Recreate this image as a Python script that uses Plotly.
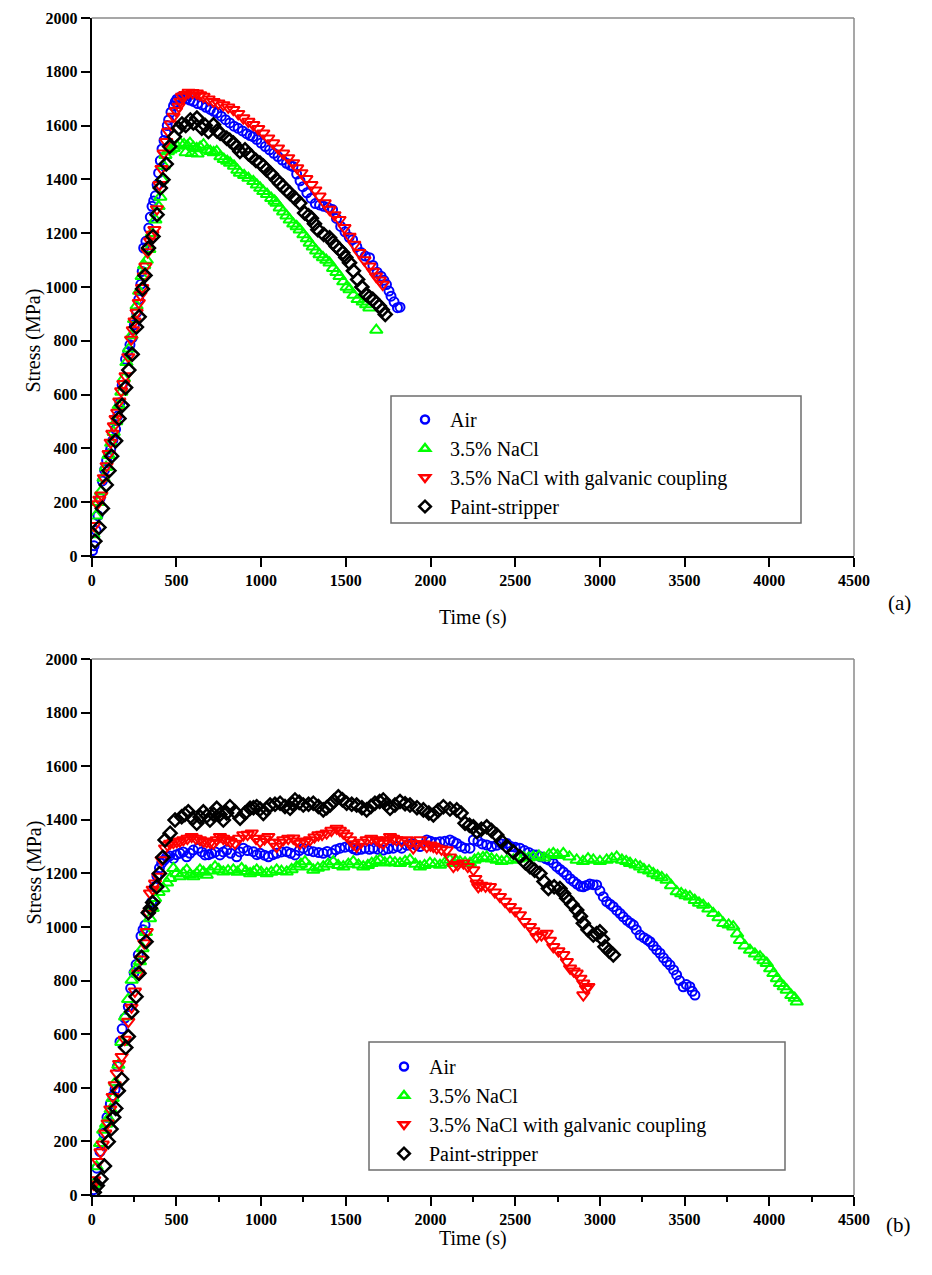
import plotly.graph_objects as go

# ---------------- Panel (a) data: Time (s), Stress (MPa) ----------------
a_air_t = [5, 14, 26, 37, 50, 63, 76, 88, 100, 112, 125, 141, 153, 166, 180, 200, 213, 226, 239, 252, 265, 278, 290, 298, 307, 320, 337, 346, 356, 366, 376, 386, 395, 405, 415, 427, 438, 446, 454, 468, 483, 493, 503,
           520, 540, 560, 580, 600, 625, 651, 675, 700, 720, 740, 765, 790, 815, 840, 865, 890, 915, 935, 952, 975, 1000, 1025, 1050, 1075, 1100, 1125, 1150, 1170, 1188, 1210, 1230, 1247, 1270, 1295, 1320, 1345, 1370, 1395, 1422, 1445, 1470, 1495, 1520, 1540, 1565, 1590, 1615, 1640, 1660, 1685, 1708, 1725, 1740, 1755, 1767, 1785, 1805, 1820]
a_air_s = [20, 38, 95, 150, 215, 279, 320, 355, 380, 397, 430, 471, 520, 570, 635, 731, 760, 785, 811, 860, 905, 954, 1010, 1058, 1145, 1170, 1219, 1260, 1300, 1320, 1339, 1380, 1424, 1470, 1513, 1545, 1574, 1600, 1621, 1650, 1673, 1688, 1698,
           1705, 1702, 1700, 1695, 1690, 1682, 1677, 1668, 1660, 1653, 1647, 1635, 1622, 1610, 1598, 1590, 1580, 1570, 1563, 1559, 1548, 1535, 1522, 1510, 1497, 1485, 1472, 1460, 1453, 1448, 1420, 1395, 1373, 1350, 1330, 1310, 1305, 1300, 1295, 1288, 1255, 1225, 1205, 1185, 1176, 1150, 1128, 1115, 1109, 1080, 1055, 1040, 1025, 1009, 985, 966, 945, 923, 925]

a_nacl_t = [10, 25, 40, 55, 70, 85, 100, 115, 130, 145, 160, 175, 190, 205, 220, 235, 250, 265, 280, 295, 310, 325, 340, 355, 376, 395, 405, 415, 425, 435, 450, 465, 484, 503, 523, 545, 565, 580, 600, 620, 640, 660, 680, 700, 720, 738, 760, 780, 800, 817, 840, 860, 875, 900, 925, 954, 975, 995, 1013, 1035, 1060, 1080, 1091, 1110, 1130, 1150, 1169, 1190, 1210, 1228, 1250, 1270, 1287, 1305, 1325, 1345, 1365, 1385, 1404, 1425, 1445, 1463, 1485, 1505, 1522, 1545, 1570, 1600, 1620, 1639, 1680,
            555, 590, 625]
a_nacl_s = [80, 150, 200, 240, 290, 330, 375, 420, 460, 500, 560, 610, 660, 720, 770, 820, 880, 930, 985, 1040, 1080, 1100, 1140, 1200, 1250, 1300, 1335, 1400, 1450, 1490, 1504, 1510, 1516, 1525, 1535, 1530, 1525, 1535, 1520, 1515, 1520, 1529, 1510, 1505, 1500, 1504, 1485, 1475, 1468, 1461, 1450, 1435, 1424, 1415, 1405, 1393, 1380, 1368, 1356, 1345, 1330, 1320, 1312, 1295, 1280, 1265, 1250, 1235, 1225, 1213, 1195, 1180, 1164, 1150, 1135, 1121, 1110, 1100, 1090, 1070, 1055, 1040, 1020, 1000, 991, 970, 954, 945, 935, 923, 840,
            1500, 1497, 1495]

a_galv_t = [14, 33, 45, 57, 72, 88, 100, 112, 122, 131, 141, 151, 163, 174, 187, 200, 216, 233, 243, 253, 265, 278, 288, 298, 308, 317, 330, 345, 358, 370, 385, 400, 412, 425, 440, 452, 467, 483, 498, 513, 523, 533, 552, 572, 596, 621, 640, 660, 690, 719, 748, 777, 806, 836, 865, 895, 925, 954, 983, 1013, 1042, 1071, 1100, 1130, 1160, 1189, 1213, 1238, 1267, 1297, 1320, 1345, 1375, 1404, 1433, 1463, 1492, 1522, 1550, 1580, 1610, 1639, 1660, 1678, 1700, 1718]
a_galv_s = [112, 193, 210, 226, 290, 335, 380, 422, 455, 483, 510, 533, 575, 613, 640, 669, 740, 805, 840, 873, 905, 941, 970, 997, 1040, 1077, 1130, 1170, 1195, 1213, 1290, 1380, 1440, 1497, 1540, 1578, 1605, 1634, 1655, 1671, 1690, 1708, 1715, 1723, 1722, 1720, 1714, 1708, 1698, 1689, 1683, 1677, 1668, 1659, 1644, 1628, 1615, 1603, 1588, 1572, 1553, 1535, 1516, 1497, 1480, 1461, 1442, 1424, 1402, 1380, 1360, 1337, 1312, 1288, 1268, 1250, 1220, 1188, 1158, 1127, 1100, 1077, 1058, 1040, 1025, 1009]

a_paint_t = [19, 43, 63, 86, 102, 118, 141, 161, 180, 200, 219, 239, 264, 280, 300, 315, 335, 362, 386, 405, 421, 440, 460, 488, 513, 533, 555, 582, 600, 621, 650, 670, 689, 719, 740, 758, 797, 815, 836, 855, 875, 905, 925, 944, 970, 993, 1013, 1032, 1060, 1091, 1110, 1130, 1150, 1169, 1200, 1228, 1257, 1280, 1297, 1315, 1335, 1370, 1404, 1425, 1444, 1462, 1482, 1500, 1522, 1545, 1570, 1595, 1620, 1640, 1659, 1680, 1698, 1715, 1733]
a_paint_s = [55, 106, 177, 264, 317, 371, 428, 511, 560, 626, 691, 750, 851, 889, 993, 1043, 1145, 1188, 1269, 1368, 1399, 1457, 1522, 1559, 1590, 1606, 1600, 1621, 1610, 1628, 1590, 1600, 1578, 1603, 1580, 1572, 1553, 1545, 1535, 1520, 1504, 1510, 1495, 1485, 1470, 1461, 1450, 1436, 1420, 1399, 1385, 1374, 1360, 1349, 1330, 1312, 1275, 1265, 1256, 1235, 1213, 1195, 1183, 1165, 1151, 1140, 1127, 1110, 1090, 1060, 1028, 1000, 972, 962, 954, 940, 929, 915, 898]

# ---------------- Panel (b) data ----------------
b_air_t = [10, 30, 49, 70, 90, 110, 125, 138, 152, 167, 180, 195, 216, 230, 250, 262, 275, 291, 303, 315, 334, 354, 370, 385, 400, 413, 428, 443, 460, 482, 500, 521, 540, 561, 580, 600, 629, 650, 669, 690, 708, 730, 757, 777, 797, 820, 856, 875, 895, 920, 954, 975, 994, 1020, 1043, 1070, 1092, 1120, 1151, 1175, 1200, 1225, 1249, 1280, 1308, 1340, 1367, 1390, 1417, 1440, 1466, 1495, 1525, 1545, 1564, 1590, 1613, 1640, 1662, 1690, 1721, 1750, 1780, 1805, 1830, 1860, 1889, 1915, 1938, 1978, 2000, 2030, 2056, 2085, 2115, 2135, 2155, 2180, 2204, 2233, 2253, 2280, 2305, 2332, 2360, 2390, 2420, 2450, 2475, 2500, 2528, 2555, 2580, 2607, 2627, 2650, 2680, 2700, 2725, 2745, 2765, 2785, 2804, 2825, 2845, 2865, 2885, 2902, 2920, 2940, 2960, 2981, 3000, 3020, 3040, 3060, 3079, 3100, 3120, 3138, 3160, 3180, 3198, 3215, 3237, 3260, 3280, 3296, 3315, 3335, 3355, 3375, 3395, 3414, 3435, 3453, 3470, 3492, 3510, 3531, 3545, 3561]
b_air_s = [20, 100, 162, 230, 290, 340, 370, 394, 480, 572, 620, 660, 703, 771, 830, 860, 896, 966, 990, 1007, 1051, 1094, 1150, 1190, 1220, 1238, 1250, 1262, 1265, 1256, 1270, 1275, 1280, 1262, 1275, 1287, 1294, 1280, 1269, 1270, 1275, 1280, 1269, 1280, 1287, 1275, 1262, 1280, 1294, 1285, 1281, 1270, 1275, 1268, 1262, 1270, 1275, 1280, 1281, 1275, 1269, 1285, 1294, 1285, 1281, 1278, 1275, 1282, 1275, 1288, 1294, 1298, 1300, 1292, 1287, 1290, 1294, 1290, 1294, 1290, 1287, 1292, 1294, 1300, 1294, 1305, 1312, 1306, 1300, 1325, 1320, 1315, 1318, 1320, 1325, 1318, 1312, 1300, 1294, 1294, 1325, 1320, 1310, 1306, 1300, 1305, 1310, 1312, 1300, 1298, 1294, 1285, 1278, 1270, 1269, 1262, 1255, 1250, 1238, 1225, 1215, 1205, 1194, 1180, 1170, 1160, 1152, 1150, 1155, 1160, 1158, 1157, 1135, 1113, 1095, 1085, 1076, 1062, 1050, 1038, 1025, 1015, 1007, 990, 970, 960, 952, 945, 930, 915, 902, 885, 870, 858, 840, 821, 800, 777, 785, 777, 760, 746]

b_nacl_t = [10, 29, 49, 68, 85, 98, 112, 124, 140, 157, 175, 197, 215, 236, 260, 285, 300, 320, 344, 360, 374, 395, 423, 445, 463, 482, 500, 521, 540, 561, 580, 600, 620, 639, 660, 679, 700, 728, 750, 777, 805, 836, 860, 885, 910, 935, 955, 974, 1000, 1033, 1060, 1092, 1120, 1151, 1180, 1210, 1235, 1259, 1285, 1308, 1335, 1367, 1395, 1426, 1455, 1485, 1515, 1544, 1575, 1603, 1630, 1653, 1680, 1702, 1730, 1761, 1790, 1820, 1850, 1879, 1910, 1938, 1965, 1997, 2025, 2056, 2085, 2115, 2135, 2155, 2174, 2204, 2233, 2260, 2282, 2310, 2332, 2360, 2390, 2420, 2450, 2489, 2520, 2550, 2580, 2607, 2640, 2670, 2700, 2725, 2750, 2784, 2820, 2863, 2900, 2930, 2961, 3000, 3040, 3070, 3099, 3130, 3155, 3178, 3210, 3237, 3260, 3290, 3315, 3340, 3365, 3394, 3420, 3453, 3480, 3505, 3531, 3560, 3585, 3610, 3640, 3669, 3700, 3728, 3760, 3787, 3810, 3827, 3855, 3886, 3915, 3945, 3965, 3985, 4005, 4024, 4045, 4063, 4085, 4103, 4130, 4150, 4162]
b_nacl_s = [40, 106, 193, 243, 265, 286, 320, 361, 420, 485, 570, 665, 730, 802, 840, 871, 920, 980, 1032, 1070, 1107, 1130, 1144, 1165, 1182, 1219, 1200, 1188, 1200, 1213, 1195, 1188, 1200, 1213, 1205, 1194, 1210, 1225, 1215, 1206, 1210, 1213, 1205, 1219, 1208, 1200, 1205, 1213, 1205, 1200, 1205, 1213, 1208, 1206, 1215, 1225, 1235, 1244, 1225, 1213, 1220, 1225, 1235, 1244, 1230, 1225, 1235, 1244, 1232, 1225, 1230, 1238, 1245, 1250, 1240, 1244, 1240, 1238, 1245, 1250, 1235, 1225, 1230, 1238, 1235, 1231, 1240, 1250, 1238, 1245, 1244, 1240, 1238, 1250, 1256, 1260, 1262, 1255, 1250, 1245, 1248, 1250, 1255, 1260, 1258, 1262, 1265, 1258, 1270, 1275, 1268, 1275, 1262, 1250, 1245, 1255, 1250, 1245, 1250, 1255, 1262, 1250, 1245, 1238, 1232, 1225, 1215, 1210, 1200, 1192, 1185, 1175, 1155, 1132, 1125, 1118, 1113, 1100, 1090, 1082, 1068, 1051, 1035, 1014, 1008, 1001, 975, 951, 930, 914, 900, 889, 875, 865, 845, 827, 808, 790, 778, 765, 745, 735, 721]

b_galv_t = [10, 15, 39, 52, 65, 80, 94, 110, 124, 136, 148, 162, 177, 195, 216, 235, 255, 275, 290, 310, 325, 335, 344, 360, 374, 393, 413, 433, 448, 463, 482, 502, 520, 541, 565, 590, 615, 639, 660, 679, 700, 718, 738, 757, 777, 797, 820, 846, 870, 895, 920, 945, 970, 994, 1020, 1043, 1070, 1092, 1110, 1131, 1160, 1190, 1210, 1230, 1260, 1289, 1315, 1338, 1360, 1387, 1415, 1446, 1465, 1485, 1505, 1525, 1545, 1564, 1590, 1623, 1650, 1682, 1700, 1721, 1740, 1761, 1780, 1800, 1830, 1859, 1878, 1898, 1918, 1938, 1958, 1978, 2000, 2017, 2037, 2065, 2096, 2115, 2135, 2160, 2194, 2220, 2253, 2265, 2273, 2282, 2300, 2325, 2351, 2380, 2410, 2440, 2469, 2500, 2528, 2555, 2587, 2607, 2627, 2655, 2686, 2705, 2725, 2755, 2784, 2805, 2824, 2845, 2863, 2885, 2902, 2918, 2932, 2902]
b_galv_s = [40, 56, 124, 160, 189, 230, 268, 320, 367, 410, 454, 490, 516, 580, 647, 700, 760, 827, 880, 940, 982, 1050, 1126, 1140, 1163, 1188, 1250, 1294, 1305, 1312, 1315, 1318, 1320, 1325, 1330, 1337, 1330, 1325, 1320, 1318, 1315, 1312, 1325, 1337, 1330, 1325, 1318, 1312, 1330, 1343, 1345, 1350, 1330, 1318, 1328, 1337, 1315, 1300, 1315, 1325, 1330, 1331, 1320, 1312, 1318, 1325, 1335, 1343, 1345, 1350, 1360, 1368, 1360, 1350, 1340, 1325, 1310, 1300, 1315, 1325, 1330, 1325, 1318, 1312, 1325, 1337, 1330, 1325, 1320, 1325, 1310, 1294, 1310, 1325, 1310, 1300, 1305, 1300, 1294, 1290, 1287, 1260, 1225, 1232, 1238, 1225, 1213, 1180, 1163, 1150, 1155, 1152, 1150, 1130, 1113, 1095, 1076, 1060, 1045, 1020, 1001, 985, 964, 970, 976, 950, 926, 910, 896, 870, 846, 835, 827, 808, 790, 770, 777, 746]

b_paint_t = [15, 33, 55, 75, 98, 114, 130, 142, 157, 177, 201, 216, 236, 262, 279, 295, 321, 334, 347, 360, 384, 400, 420, 433, 463, 492, 531, 550, 570, 595, 620, 640, 659, 680, 698, 720, 738, 757, 777, 796, 816, 846, 876, 905, 935, 955, 974, 994, 1013, 1033, 1053, 1082, 1112, 1141, 1171, 1185, 1200, 1225, 1249, 1280, 1308, 1338, 1367, 1387, 1407, 1430, 1456, 1480, 1505, 1535, 1564, 1595, 1623, 1648, 1672, 1700, 1721, 1740, 1761, 1790, 1820, 1850, 1879, 1920, 1958, 1990, 2017, 2045, 2076, 2115, 2155, 2180, 2204, 2230, 2253, 2273, 2300, 2332, 2360, 2391, 2420, 2450, 2490, 2528, 2560, 2587, 2615, 2646, 2670, 2696, 2730, 2764, 2785, 2804, 2835, 2863, 2885, 2902, 2930, 2961, 2980, 3000, 3015, 3030, 3055, 3079]
b_paint_s = [10, 35, 60, 108, 199, 246, 290, 323, 389, 432, 550, 591, 684, 740, 827, 887, 945, 1053, 1070, 1091, 1150, 1200, 1260, 1325, 1350, 1399, 1411, 1420, 1430, 1405, 1387, 1410, 1430, 1415, 1399, 1420, 1443, 1420, 1399, 1425, 1449, 1430, 1406, 1425, 1443, 1445, 1449, 1440, 1424, 1440, 1455, 1458, 1462, 1450, 1443, 1460, 1474, 1465, 1455, 1458, 1462, 1450, 1437, 1445, 1455, 1470, 1486, 1475, 1462, 1458, 1455, 1445, 1437, 1450, 1462, 1468, 1474, 1458, 1443, 1455, 1468, 1460, 1455, 1445, 1437, 1425, 1418, 1435, 1449, 1440, 1437, 1425, 1387, 1380, 1374, 1356, 1365, 1374, 1360, 1343, 1320, 1300, 1280, 1262, 1240, 1225, 1212, 1200, 1170, 1144, 1150, 1144, 1125, 1107, 1085, 1063, 1040, 1014, 990, 970, 975, 982, 955, 926, 910, 896]

series_names = ["Air", "3.5% NaCl", "3.5% NaCl with galvanic coupling", "Paint-stripper"]
series_colors = ["#0000FF", "#00FF00", "#FF0000", "#000000"]
series_symbols = ["circle-open", "triangle-up-open", "triangle-down-open", "diamond-open"]
series_sizes = [9, 11, 11, 10]
series_lw = [2, 2, 2, 2.5]
legend_sizes = [8, 9, 9, 9]

x_ticks = [0, 500, 1000, 1500, 2000, 2500, 3000, 3500, 4000, 4500]
y_ticks = [0, 200, 400, 600, 800, 1000, 1200, 1400, 1600, 1800, 2000]

panels = [
    ("x", "y", "legend", [(a_air_t, a_air_s), (a_nacl_t, a_nacl_s), (a_galv_t, a_galv_s), (a_paint_t, a_paint_s)]),
    ("x2", "y2", "legend2", [(b_air_t, b_air_s), (b_nacl_t, b_nacl_s), (b_galv_t, b_galv_s), (b_paint_t, b_paint_s)]),
]

# page has an 8px body margin; figure sized to fill the rest of the window
OFF = 8
W, H = 924, 1267
fig = go.Figure()
for xa, ya, leg, data in panels:
    for i, (t, s) in enumerate(data):
        fig.add_trace(go.Scatter(
            x=t, y=s, mode="markers", name=series_names[i], xaxis=xa, yaxis=ya, showlegend=False,
            marker=dict(symbol=series_symbols[i], size=series_sizes[i], color=series_colors[i],
                        line=dict(width=series_lw[i], color=series_colors[i])),
        ))
    # legend entries (smaller symbols, as in the original key)
    for i in range(4):
        fig.add_trace(go.Scatter(
            x=[None], y=[None], mode="markers", name="\u00a0" + series_names[i], xaxis=xa, yaxis=ya,
            legend=leg, legendgroup=f"{leg}{i}", showlegend=True,
            marker=dict(symbol=series_symbols[i], size=legend_sizes[i], color=series_colors[i],
                        line=dict(width=2.5, color=series_colors[i])),
        ))

def px_x(p):
    return (p - OFF) / W

def px_y(p):
    return 1 - (p - OFF) / H

tickfont = dict(family="Liberation Serif", size=16, color="black", weight="bold")
axis_common = dict(range=[0, 4500], tickvals=x_ticks, showline=True, linecolor="black", linewidth=2,
                   ticks="outside", ticklen=9, tickwidth=2, tickcolor="black", showgrid=False,
                   zeroline=False, tickfont=tickfont, automargin=False)
yaxis_common = dict(range=[0, 2000], tickvals=y_ticks, showline=True, linecolor="black", linewidth=2,
                    ticks="outside", ticklen=9, tickwidth=2, tickcolor="black", showgrid=False,
                    zeroline=False, tickfont=tickfont, automargin=False)

xdom = [px_x(91.7), px_x(854)]
fig.update_layout(
    template="none",
    width=W, height=H, margin=dict(l=0, r=0, t=0, b=0, autoexpand=False),
    paper_bgcolor="white", plot_bgcolor="white",
    font=dict(family="Liberation Serif", color="black"),
    xaxis=dict(domain=xdom, anchor="y", **axis_common),
    yaxis=dict(domain=[px_y(556), px_y(18)], anchor="x", **yaxis_common),
    xaxis2=dict(domain=xdom, anchor="y2", minor=dict(dtick=250, ticks="outside", ticklen=5, tickwidth=2, tickcolor="black"), **axis_common),
    yaxis2=dict(domain=[px_y(1195), px_y(659)], anchor="x2", **yaxis_common),
    legend=dict(x=px_x(405), y=px_y(400), xanchor="left", yanchor="top", bgcolor="rgba(0,0,0,0)",
                font=dict(family="Liberation Serif", size=20), tracegroupgap=0, itemsizing="trace"),
    legend2=dict(x=px_x(384), y=px_y(1047), xanchor="left", yanchor="top", bgcolor="rgba(0,0,0,0)",
                 font=dict(family="Liberation Serif", size=20), tracegroupgap=0, itemsizing="trace"),
    showlegend=True,
)

shapes = []
for xr, yr in [("x domain", "y domain"), ("x2 domain", "y2 domain")]:
    shapes.append(dict(type="line", xref=xr, yref=yr, x0=0, x1=1, y0=1, y1=1, line=dict(color="#8a8a8a", width=1.5)))
    shapes.append(dict(type="line", xref=xr, yref=yr, x0=1, x1=1, y0=0, y1=1, line=dict(color="#8a8a8a", width=1.5)))
# legend frames
shapes.append(dict(type="rect", xref="paper", yref="paper", x0=px_x(391), x1=px_x(801), y0=px_y(523), y1=px_y(396),
                   line=dict(color="#6e6e6e", width=1.5)))
shapes.append(dict(type="rect", xref="paper", yref="paper", x0=px_x(369), x1=px_x(785), y0=px_y(1170), y1=px_y(1042),
                   line=dict(color="#6e6e6e", width=1.5)))
fig.update_layout(shapes=shapes)

ann_font = dict(family="Liberation Serif", size=20, color="black")
annotations = [
    dict(text="Time (s)", x=px_x(473), y=px_y(617), xref="paper", yref="paper", showarrow=False, font=ann_font),
    dict(text="Time (s)", x=px_x(473), y=px_y(1252), xref="paper", yref="paper", showarrow=False, font=ann_font),
    dict(text="Stress (MPa)", x=px_x(20), y=px_y(287), xref="paper", yref="paper", showarrow=False, textangle=-90, font=ann_font),
    dict(text="Stress (MPa)", x=px_x(20), y=px_y(927), xref="paper", yref="paper", showarrow=False, textangle=-90, font=ann_font),
    dict(text="(a)", x=px_x(913), y=px_y(603), xref="paper", yref="paper", showarrow=False, font=dict(family="Liberation Serif", size=21, color="black")),
    dict(text="(b)", x=px_x(913), y=px_y(1239), xref="paper", yref="paper", showarrow=False, font=dict(family="Liberation Serif", size=21, color="black")),
]
fig.update_layout(annotations=annotations)

fig.write_html("out.html")
